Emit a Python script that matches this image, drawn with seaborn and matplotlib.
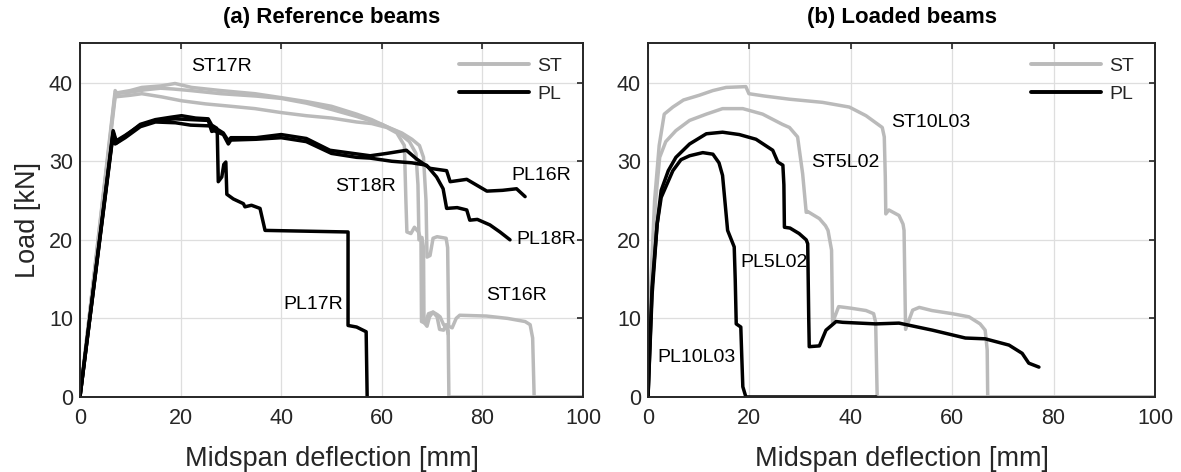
import numpy as np
import pandas as pd
import matplotlib
matplotlib.use("Agg")
import matplotlib.pyplot as plt
import seaborn as sns

# ---------------- data ----------------
# Panel (a): reference beams
ST17R_x = [0, 7, 7.3, 10, 12.3, 16.2, 18.9, 22.2, 28, 34.8, 40, 45, 50, 55, 58, 61, 64, 66, 67.5, 68.3, 68.8, 69.0, 69.6, 70.2, 71.0, 72.8, 73.1, 73.3, 74.0, 74.8, 75.5, 80.8, 85, 88.5, 89.5, 90.0, 90.3, 100]
ST17R_y = [0, 39.0, 38.7, 39.0, 39.4, 39.6, 39.9, 39.4, 39.0, 38.6, 38.1, 37.6, 37.0, 36.0, 35.3, 34.4, 33.6, 32.8, 32.0, 30.5, 25.0, 17.8, 18.0, 20.2, 20.4, 20.2, 19.0, 9.0, 8.8, 10.0, 10.4, 10.3, 10.0, 9.6, 9.2, 7.5, 0, 0]
ST16R_x = [0, 7, 10, 13, 16, 18.5, 22, 28, 35, 40, 45, 50, 55, 60, 63, 65.5, 66.8, 67.2, 67.4, 68.0, 68.3, 68.4, 69.0, 69.5, 70.2, 71.0, 71.6, 72.3, 73.0, 73.2]
ST16R_y = [0, 38.6, 38.8, 39.1, 39.3, 39.2, 39.0, 38.6, 38.3, 38.0, 37.4, 36.6, 35.7, 34.7, 33.8, 32.5, 31.0, 27.0, 20.0, 20.3, 19.0, 9.5, 9.0, 10.2, 10.8, 10.5, 10.2, 9.2, 8.6, 8.0]
ST18R_x = [0, 7, 10, 12.3, 16.2, 20.2, 25, 30, 34.8, 40, 45, 50, 55, 58, 61, 63, 64.5, 64.8, 65.0, 65.8, 66.5, 67.3, 67.8, 67.9, 68.6, 69.3, 70.2, 71.0, 71.5, 72.3, 72.8, 73.2, 73.35, 100]
ST18R_y = [0, 38.2, 38.4, 38.6, 38.2, 37.7, 37.3, 37.0, 36.7, 36.2, 35.8, 35.5, 35.0, 34.8, 34.3, 33.6, 32.0, 25.0, 21.0, 20.8, 21.6, 21.0, 20.0, 9.6, 9.4, 10.6, 10.8, 10.2, 8.6, 8.5, 9.2, 8.5, 0, 0]

PL16R_x = [0, 6.6, 7.2, 9, 12, 15, 19, 22, 25.5, 26.2, 27.5, 28.5, 29.5, 30, 35, 40, 45, 49.7, 52, 57.7, 61, 64.9, 66.9, 69.6, 72.9, 73.6, 76.9, 80.9, 84, 86.8, 88.5]
PL16R_y = [0, 33.9, 32.6, 33.3, 34.6, 35.2, 35.4, 35.3, 35.2, 33.8, 34.0, 33.6, 32.6, 33.0, 33.0, 33.4, 32.9, 31.4, 31.2, 30.7, 31.0, 31.4, 30.3, 29.1, 28.8, 27.4, 27.7, 26.2, 26.3, 26.5, 25.5]
PL17R_x = [0, 6.6, 7.2, 9, 12, 15, 18, 20.2, 23, 25.5, 26.2, 27.2, 27.3, 27.5, 28.2, 28.6, 29.0, 29.2, 30.5, 32.5, 32.8, 34.1, 35.8, 36.8, 53.3, 53.3, 55.0, 56.9, 57.1]
PL17R_y = [0, 33.7, 32.3, 33.2, 34.7, 35.3, 35.6, 35.8, 35.5, 35.4, 34.6, 34.2, 33.7, 27.4, 28.0, 29.6, 29.9, 25.8, 25.2, 24.6, 24.2, 24.4, 24.0, 21.2, 21.0, 9.1, 8.9, 8.3, 0]
PL18R_x = [0, 6.6, 7.0, 9, 12, 15, 19, 22, 26, 27, 28.5, 29.5, 30, 35, 40, 45, 50, 55, 57.7, 62, 66, 68.9, 70.9, 72.2, 72.9, 75, 76.9, 77.5, 79, 81.5, 83.5, 85.5]
PL18R_y = [0, 33.5, 32.2, 33.0, 34.4, 35.0, 34.9, 34.6, 34.5, 33.8, 33.4, 32.2, 32.7, 32.8, 33.0, 32.5, 31.0, 30.5, 30.4, 30.0, 29.8, 29.5, 28.0, 26.5, 24.0, 24.1, 23.8, 22.5, 22.6, 21.9, 21.0, 20.0]

# Panel (b): loaded beams
ST10L03_x = [0, 0.6, 1.3, 2.2, 3.2, 4.9, 7, 10.1, 12.8, 15.4, 19.3, 19.9, 23, 27.9, 34.4, 39.7, 43, 46.2, 46.6, 46.8, 46.9, 47.5, 49.5, 50.3, 50.5, 50.8, 52.2, 53.5, 56, 60, 63.3, 65.5, 66.5, 66.9, 67.0, 100]
ST10L03_y = [0, 15, 25, 32, 36.0, 36.9, 37.8, 38.4, 39.0, 39.4, 39.5, 38.6, 38.3, 37.9, 37.5, 36.9, 35.8, 34.3, 33.1, 28, 23.3, 23.8, 23.1, 22.0, 21.2, 8.6, 11.05, 11.4, 11.0, 10.6, 10.2, 9.3, 8.5, 6.0, 0, 0]
ST5L02_x = [0, 0.8, 1.5, 2.3, 3.5, 5.5, 8.2, 11.5, 14.7, 18.7, 22.6, 26.5, 27.9, 29.5, 30.5, 31.2, 31.5, 33.8, 35.0, 35.5, 36.2, 36.4, 36.6, 37.6, 40, 43.0, 44.5, 44.9, 45.2, 100]
ST5L02_y = [0, 17, 25, 30.5, 32.5, 33.9, 35.2, 36.0, 36.7, 36.7, 36.0, 34.7, 34.3, 33.1, 28.4, 23.5, 23.6, 22.7, 21.8, 21.2, 18.7, 9.4, 9.8, 11.5, 11.3, 11.0, 10.6, 9.5, 0, 0]
PL5L02_x = [0, 0.8, 1.8, 2.6, 4, 5.5, 8.2, 11.5, 14.7, 18, 21.3, 24.6, 25.6, 26.6, 26.8, 26.9, 28, 29.8, 31.2, 31.5, 31.7, 31.8, 33.8, 35.1, 37.1, 38.4, 44.9, 49.5, 56.1, 62.6, 66.5, 71.2, 73.8, 75.1, 77.1]
PL5L02_y = [0, 14, 22, 26.3, 28.8, 30.5, 32.2, 33.5, 33.7, 33.4, 32.8, 31.4, 29.9, 29.5, 27, 21.6, 21.5, 20.8, 20.0, 19.5, 10, 6.4, 6.5, 8.5, 9.6, 9.5, 9.3, 9.4, 8.5, 7.5, 7.4, 6.6, 5.55, 4.3, 3.8]
PL10L03_x = [0, 0.8, 1.8, 2.6, 4.9, 6.5, 8.2, 10.8, 12.8, 14.0, 14.7, 15.3, 15.7, 17.0, 17.2, 17.4, 18.3, 18.5, 18.7, 19.3, 45]
PL10L03_y = [0, 13, 22, 25.4, 28.8, 30.2, 30.7, 31.1, 30.9, 29.8, 28.2, 24, 21.2, 19.1, 15, 9.3, 8.9, 5, 1.3, 0, 0]

beam_types = ["ST", "PL"]
x_ticks = [0, 20, 40, 60, 80, 100]
y_ticks = [0, 10, 20, 30, 40]

panel_a = {
    "ST17R": ("ST", ST17R_x, ST17R_y), "ST16R": ("ST", ST16R_x, ST16R_y), "ST18R": ("ST", ST18R_x, ST18R_y),
    "PL16R": ("PL", PL16R_x, PL16R_y), "PL17R": ("PL", PL17R_x, PL17R_y), "PL18R": ("PL", PL18R_x, PL18R_y),
}
panel_b = {
    "ST10L03": ("ST", ST10L03_x, ST10L03_y), "ST5L02": ("ST", ST5L02_x, ST5L02_y),
    "PL5L02": ("PL", PL5L02_x, PL5L02_y), "PL10L03": ("PL", PL10L03_x, PL10L03_y),
}

# label positions (data coords, left/center anchored)
labels_a = {"ST17R": (22.2, 42.0), "ST18R": (50.7, 26.8), "PL16R": (85.8, 28.2),
            "PL18R": (86.8, 20.1), "ST16R": (80.8, 12.9), "PL17R": (40.4, 11.8)}
labels_b = {"ST10L03": (47.9, 34.9), "ST5L02": (32.1, 29.9), "PL5L02": (18.3, 17.1),
            "PL10L03": (1.9, 5.0)}


def to_df(panel):
    rows = []
    for name, (t, xs, ys) in panel.items():
        for i, (x, y) in enumerate(zip(xs, ys)):
            rows.append({"beam": name, "type": t, "x": x, "y": y, "order": i})
    return pd.DataFrame(rows)


sns.set_style("white")
plt.rcParams["font.family"] = ["Liberation Sans", "DejaVu Sans"]

fig = plt.figure(figsize=(11.81, 4.72), dpi=100)
ax1 = fig.add_axes([0.0677, 0.159, 0.4259, 0.749])
ax2 = fig.add_axes([0.5487, 0.159, 0.4293, 0.749])

palette = {"ST": (0.73, 0.73, 0.73), "PL": (0.0, 0.0, 0.0)}
txt_col = "#262626"

for ax, panel, labels, title in [(ax1, panel_a, labels_a, "(a) Reference beams"),
                                 (ax2, panel_b, labels_b, "(b) Loaded beams")]:
    df = to_df(panel)
    sns.lineplot(data=df, x="x", y="y", hue="type", units="beam", estimator=None,
                 sort=False, hue_order=beam_types, palette=palette, linewidth=2.5,
                 ax=ax, legend=True)
    ax.set_xlim(0, 100)
    ax.set_ylim(0, 45)
    ax.set_xticks(x_ticks)
    ax.set_yticks(y_ticks)
    ax.grid(True, color=(0.87, 0.87, 0.87), linewidth=0.9)
    ax.set_axisbelow(True)
    for s in ax.spines.values():
        s.set_color(txt_col)
        s.set_linewidth(1.4)
        s.set_visible(True)
    ax.tick_params(direction="in", length=4, width=1.2, top=True, right=True,
                   labelsize=15.5, colors=txt_col)
    ax.tick_params(axis="x", pad=8)
    ax.tick_params(axis="y", pad=5)
    ax.set_xlabel("Midspan deflection [mm]", fontsize=19.5, color=txt_col, labelpad=12)
    ax.set_ylabel("")
    ax.set_title(title, fontsize=16, fontweight="bold", pad=15, color="black")
    for name, (lx, ly) in labels.items():
        ax.text(lx, ly, name, fontsize=14, ha="left", va="center", color="black")
    h, l = ax.get_legend_handles_labels()
    ax.legend(h, l, loc="upper right", frameon=False, fontsize=14,
              handlelength=3.6, handletextpad=0.4, labelspacing=0.55,
              borderaxespad=0.3, bbox_to_anchor=(0.985, 1.0))
    for line in ax.get_legend().get_lines():
        line.set_linewidth(2.8)

ax1.set_ylabel("Load [kN]", fontsize=19.5, color=txt_col, labelpad=6)

fig.savefig("out.png", dpi=100)
